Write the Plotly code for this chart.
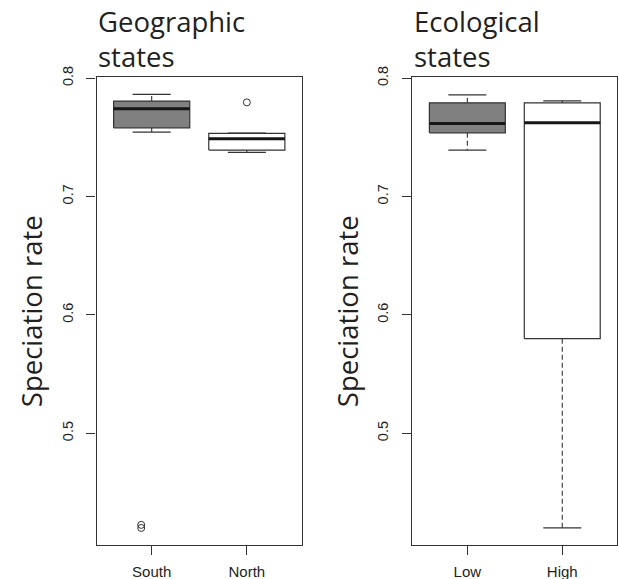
import plotly.graph_objects as go

# ---------------- data ----------------
geo_categories = ["South", "North"]
geo_lower = [0.7544, 0.7373]
geo_q1 = [0.7580, 0.7392]
geo_median = [0.7741, 0.7487]
geo_q3 = [0.7806, 0.7533]
geo_upper = [0.7862, 0.7535]
geo_outliers = [[0.4226, 0.4200], [0.7795]]

eco_categories = ["Low", "High"]
eco_lower = [0.7392, 0.4200]
eco_q1 = [0.7538, 0.5799]
eco_median = [0.7617, 0.7623]
eco_q3 = [0.7791, 0.7791]
eco_upper = [0.7859, 0.7808]
eco_outliers = [[], []]

y_ticks = [0.5, 0.6, 0.7, 0.8]
y_tick_labels = ["0.5", "0.6", "0.7", "0.8"]

# ---------------- style ----------------
W, H = 619, 579
FILLS = ["#808080", "#ffffff"]
BORDER = "#333333"
TEXT = "#231f20"
HALF_BOX = 0.4
HALF_CAP = 0.2
OUTLIER_SHIFT = [[-0.11, -0.11], [0.0]]   # horizontal placement seen in the picture
Y_RANGE = [0.4056, 0.8007]
X_RANGE = [0.42, 2.58]
TITLE_SIZE = 27.5


def px_x(v):
    return v / W


def px_y(v):
    return 1 - v / H


panels = [
    dict(cats=geo_categories, lo=geo_lower, q1=geo_q1, med=geo_median, q3=geo_q3,
         hi=geo_upper, out=geo_outliers, shift=OUTLIER_SHIFT, xa="x", ya="y",
         title=["Geographic", "states"], xdom=[96.5, 302], title_x=96, ylab_x=31),
    dict(cats=eco_categories, lo=eco_lower, q1=eco_q1, med=eco_median, q3=eco_q3,
         hi=eco_upper, out=eco_outliers, shift=[[], []], xa="x2", ya="y2",
         title=["Ecological", "states"], xdom=[412.3, 617.3], title_x=412, ylab_x=347),
]

fig = go.Figure()
annotations = []
YDOM = [px_y(545), px_y(77.3)]

for idx, p in enumerate(panels):
    centers = list(range(1, len(p["cats"]) + 1))
    for i, c in enumerate(centers):
        # box
        fig.add_trace(go.Scatter(
            x=[c - HALF_BOX, c + HALF_BOX, c + HALF_BOX, c - HALF_BOX, c - HALF_BOX],
            y=[p["q1"][i], p["q1"][i], p["q3"][i], p["q3"][i], p["q1"][i]],
            mode="lines", fill="toself", fillcolor=FILLS[i],
            line=dict(color=BORDER, width=1.2), xaxis=p["xa"], yaxis=p["ya"],
            hoverinfo="skip"))
        # whiskers (dashed)
        fig.add_trace(go.Scatter(
            x=[c, c, None, c, c],
            y=[p["q3"][i], p["hi"][i], None, p["q1"][i], p["lo"][i]],
            mode="lines", line=dict(color=BORDER, width=1.1, dash="5px,3px"),
            xaxis=p["xa"], yaxis=p["ya"], hoverinfo="skip"))
        # caps
        fig.add_trace(go.Scatter(
            x=[c - HALF_CAP, c + HALF_CAP, None, c - HALF_CAP, c + HALF_CAP],
            y=[p["hi"][i], p["hi"][i], None, p["lo"][i], p["lo"][i]],
            mode="lines", line=dict(color=BORDER, width=1.2),
            xaxis=p["xa"], yaxis=p["ya"], hoverinfo="skip"))
        # median
        fig.add_trace(go.Scatter(
            x=[c - HALF_BOX, c + HALF_BOX], y=[p["med"][i], p["med"][i]],
            mode="lines", line=dict(color="#161616", width=3),
            xaxis=p["xa"], yaxis=p["ya"], hoverinfo="skip"))
        # outliers
        if p["out"][i]:
            fig.add_trace(go.Scatter(
                x=[c + s for s in p["shift"][i]], y=p["out"][i], mode="markers",
                marker=dict(symbol="circle-open", size=7, color=BORDER,
                            line=dict(width=1)),
                xaxis=p["xa"], yaxis=p["ya"], hoverinfo="skip"))

    axis_common = dict(showgrid=False, zeroline=False, showline=True, mirror=True,
                       linecolor=BORDER, linewidth=1.2, ticks="outside", ticklen=9,
                       tickcolor=BORDER, tickwidth=1.2, automargin=False)
    xname = "xaxis" if idx == 0 else "xaxis2"
    yname = "yaxis" if idx == 0 else "yaxis2"
    fig.update_layout(**{
        xname: dict(domain=[px_x(p["xdom"][0]), px_x(p["xdom"][1])], range=X_RANGE,
                    tickvals=centers, ticktext=p["cats"], anchor=p["ya"],
                    tickfont=dict(family="Liberation Sans", size=15, color=TEXT),
                    ticklabelstandoff=4, **axis_common),
        yname: dict(domain=YDOM, range=Y_RANGE, tickvals=y_ticks, ticktext=y_tick_labels,
                    tickangle=-90, anchor=p["xa"],
                    tickfont=dict(family="Liberation Sans", size=14.5, color=TEXT),
                    ticklabelstandoff=8, **axis_common),
    })

    annotations.append(dict(text=p["title"][0], xref="paper", yref="paper",
                            x=px_x(p["title_x"]), y=px_y(22), xanchor="left",
                            yanchor="middle", showarrow=False,
                            font=dict(family="Open Sans", size=TITLE_SIZE, color=TEXT)))
    annotations.append(dict(text=p["title"][1], xref="paper", yref="paper",
                            x=px_x(p["title_x"]), y=px_y(56), xanchor="left",
                            yanchor="middle", showarrow=False,
                            font=dict(family="Open Sans", size=TITLE_SIZE, color=TEXT)))
    annotations.append(dict(text="Speciation rate", xref="paper", yref="paper",
                            x=px_x(p["ylab_x"]), y=(YDOM[0] + YDOM[1]) / 2,
                            xanchor="center", yanchor="middle", textangle=-90,
                            showarrow=False,
                            font=dict(family="Open Sans", size=TITLE_SIZE, color=TEXT)))

fig.update_layout(width=W, height=H, margin=dict(l=0, r=0, t=0, b=0, pad=0),
                  paper_bgcolor="white", plot_bgcolor="white", showlegend=False,
                  annotations=annotations)

fig.write_html("out.html", config={"displayModeBar": False},
               post_script="document.body.style.margin='0';")
